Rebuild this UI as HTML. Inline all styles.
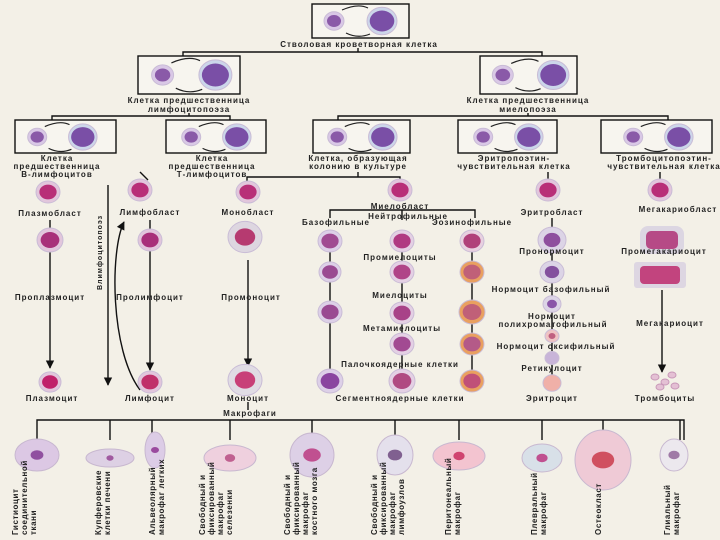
<!DOCTYPE html>
<html><head><meta charset="utf-8"><style>
html,body{margin:0;padding:0;background:#f3f0e7;}
svg{display:block}
text{font-family:"Liberation Sans","DejaVu Sans",sans-serif;font-size:8px;font-weight:bold;fill:#222;letter-spacing:1px;}
.c{text-anchor:middle}
.v text{font-size:8px;letter-spacing:0.6px}
</style></head><body>
<svg id="s" width="720" height="540" viewBox="0 0 720 540" xmlns="http://www.w3.org/2000/svg">
<defs>
<marker id="ar" viewBox="0 0 10 10" refX="9" refY="5" markerWidth="6" markerHeight="7" orient="auto"><path d="M0,0L10,5L0,10z" fill="#111"/></marker>
</defs>
<g fill="none" stroke="#111" stroke-width="1.4">
<rect x="312" y="4" width="97" height="34" fill="#f7f5ef"/>
<rect x="138" y="56" width="102" height="38" fill="#f7f5ef"/>
<rect x="480" y="56" width="97" height="38" fill="#f7f5ef"/>
<rect x="15" y="120" width="101" height="33" fill="#f7f5ef"/>
<rect x="166" y="120" width="100" height="33" fill="#f7f5ef"/>
<rect x="313" y="120" width="97" height="33" fill="#f7f5ef"/>
<rect x="458" y="120" width="99" height="33" fill="#f7f5ef"/>
<rect x="601" y="120" width="111" height="33" fill="#f7f5ef"/>
<path d="M358 48V52M183 56V52H542V56"/>
<path d="M189 113V116M52 120V116H230V120"/>
<path d="M528 113V116M338 120V116H668V120"/>
<path d="M358 172V177M247 182V177H400V182"/>
<path d="M548 172V180M660 172V180M140 172L148 180"/>
<path d="M50 220V368" marker-end="url(#ar)"/>
<path d="M150 220V370" marker-end="url(#ar)"/>
<path d="M248 260V366" marker-end="url(#ar)"/>
<path d="M108 185V385" marker-end="url(#ar)"/>
<path d="M140 390C110 350 110 250 124 222" marker-end="url(#ar)"/>
<path d="M330 218V210H475V218M402 210V220"/>
<path d="M330 230V375M402 230V375M472 230V375"/>
<path d="M552 218V375"/>
<path d="M662 290V372" marker-end="url(#ar)"/>
<path d="M248 402V410"/>
<path d="M37 440V420H684V440M110 420V440M152 420V440M230 420V440M312 420V440M395 420V440M459 420V440M542 420V440M603 420V440M680 420V440"/>
</g>
<g id="cells"></g>
<text class="c" x="359" y="47">Стволовая кроветворная клетка</text>
<text class="c" x="189" y="103">Клетка предшественница</text>
<text class="c" x="189" y="112">лимфоцитопоэза</text>
<text class="c" x="528" y="103">Клетка предшественница</text>
<text class="c" x="528" y="112">миелопоэза</text>
<text class="c" x="57" y="161">Клетка</text>
<text class="c" x="57" y="169">предшественница</text>
<text class="c" x="57" y="177">В-лимфоцитов</text>
<text class="c" x="212" y="161">Клетка</text>
<text class="c" x="212" y="169">предшественница</text>
<text class="c" x="212" y="177">Т-лимфоцитов</text>
<text class="c" x="358" y="161">Клетка, образующая</text>
<text class="c" x="358" y="169">колонию в культуре</text>
<text class="c" x="514" y="161">Эритропоэтин-</text>
<text class="c" x="514" y="169">чувствительная клетка</text>
<text class="c" x="664" y="161">Тромбоцитопоэтин-</text>
<text class="c" x="664" y="169">чувствительная клетка</text>
<text class="c" x="50" y="216">Плазмобласт</text>
<text class="c" x="150" y="215">Лимфобласт</text>
<text class="c" x="248" y="215">Монобласт</text>
<text class="c" x="400" y="209">Миелобласт</text>
<text class="c" x="408" y="219">Нейтрофильные</text>
<text class="c" x="336" y="225">Базофильные</text>
<text class="c" x="472" y="225">Эозинофильные</text>
<text class="c" x="552" y="215">Эритробласт</text>
<text class="c" x="678" y="212">Мегакариобласт</text>
<text class="c" x="552" y="254">Пронормоцит</text>
<text class="c" x="664" y="254">Промегакариоцит</text>
<text class="c" x="400" y="260">Промиелоциты</text>
<text class="c" x="551" y="292">Нормоцит базофильный</text>
<text class="c" x="400" y="298">Миелоциты</text>
<text class="c" x="50" y="300">Проплазмоцит</text>
<text class="c" x="150" y="300">Пролимфоцит</text>
<text class="c" x="251" y="300">Промоноцит</text>
<text class="c" x="552" y="319">Нормоцит</text>
<text class="c" x="553" y="327">полихроматофильный</text>
<text class="c" x="670" y="326">Мегакариоцит</text>
<text class="c" x="402" y="331">Метамиелоциты</text>
<text class="c" x="556" y="349">Нормоцит оксифильный</text>
<text class="c" x="400" y="367">Палочкоядерные клетки</text>
<text class="c" x="552" y="371">Ретикулоцит</text>
<text class="c" x="52" y="401">Плазмоцит</text>
<text class="c" x="150" y="401">Лимфоцит</text>
<text class="c" x="248" y="401">Моноцит</text>
<text class="c" x="400" y="401">Сегментноядерные клетки</text>
<text class="c" x="552" y="401">Эритроцит</text>
<text class="c" x="665" y="401">Тромбоциты</text>
<text class="c" x="250" y="416">Макрофаги</text>
<text transform="translate(102,290) rotate(-90)" style="font-size:7px">Влимфоцитопоэз</text>
<g class="v">
<g transform="translate(18,535) rotate(-90)"><text x="0" y="0">Гистиоцит</text><text x="0" y="9">соединительной</text><text x="0" y="18">ткани</text></g>
<g transform="translate(101,535) rotate(-90)"><text x="0" y="0">Купферовские</text><text x="0" y="9">клетки печени</text></g>
<g transform="translate(155,535) rotate(-90)"><text x="0" y="0">Альвеолярный</text><text x="0" y="9">макрофаг легких</text></g>
<g transform="translate(205,535) rotate(-90)"><text x="0" y="0">Свободный и</text><text x="0" y="9">фиксированный</text><text x="0" y="18">макрофаг</text><text x="0" y="27">селезенки</text></g>
<g transform="translate(290,535) rotate(-90)"><text x="0" y="0">Свободный и</text><text x="0" y="9">фиксированный</text><text x="0" y="18">макрофаг</text><text x="0" y="27">костного мозга</text></g>
<g transform="translate(377,535) rotate(-90)"><text x="0" y="0">Свободный и</text><text x="0" y="9">фиксированный</text><text x="0" y="18">макрофаг</text><text x="0" y="27">лимфоузлов</text></g>
<g transform="translate(451,535) rotate(-90)"><text x="0" y="0">Перитонеальный</text><text x="0" y="9">макрофаг</text></g>
<g transform="translate(537,535) rotate(-90)"><text x="0" y="0">Плевральный</text><text x="0" y="9">макрофаг</text></g>
<g transform="translate(601,535) rotate(-90)"><text x="0" y="0">Остеокласт</text></g>
<g transform="translate(670,535) rotate(-90)"><text x="0" y="0">Глиальный</text><text x="0" y="9">макрофаг</text></g>
</g>
</svg>
<script>
var g=document.getElementById('cells'),NS='http://www.w3.org/2000/svg';
function el(t,a){var e=document.createElementNS(NS,t);for(var k in a)e.setAttribute(k,a[k]);g.appendChild(e);return e;}
function cell(x,y,r,oc,nc,nr){el('ellipse',{cx:x,cy:y,rx:r,ry:r*0.92,fill:oc,stroke:'#c9bcd6','stroke-width':1});el('ellipse',{cx:x,cy:y,rx:r*(nr||0.72),ry:r*(nr||0.72)*0.85,fill:nc});}
function pair(cx,cy,s){cell(cx-24*s,cy,10*s,'#d9c8e6','#8a5aa8',0.7);cell(cx+24*s,cy,15*s,'#ccd6ea','#7a4fa6',0.82);
 el('path',{d:'M'+(cx-16*s)+' '+(cy-11*s)+'Q'+cx+' '+(cy-18*s)+' '+(cx+10*s)+' '+(cy-13*s),fill:'none',stroke:'#222','stroke-width':1.2});
 el('path',{d:'M'+(cx-12*s)+' '+(cy+12*s)+'Q'+cx+' '+(cy+18*s)+' '+(cx+12*s)+' '+(cy+13*s),fill:'none',stroke:'#222','stroke-width':1.2});}
pair(358,21,1);pair(189,75,1.1);pair(528,75,1.05);
pair(60,137,0.95);pair(214,137,0.95);pair(360,137,0.95);pair(506,137,0.95);pair(656,137,0.95);
var P='#b82f78',PL='#e2c6dc',V='#8e4f9e',O='#e9a060';
[[48,192],[140,190],[248,192],[400,190],[548,190],[660,190]].forEach(function(p){cell(p[0],p[1],12,PL,P);});
cell(50,240,13,PL,'#a8307a');cell(150,240,12,PL,'#a8307a');cell(245,237,17,'#ddd6e0','#b63a70',0.6);
cell(330,241,12,'#ddd0e8','#a04b92');cell(402,241,12,'#e4d0e4','#b03a82');cell(472,241,12,'#e8d0e0','#b0407a');
cell(552,240,14,'#dcd4e6',V,0.6);
el('rect',{x:640,y:226,width:44,height:28,rx:8,fill:'#dcd6e2'});el('rect',{x:646,y:231,width:32,height:18,rx:5,fill:'#b64a86'});
cell(330,272,11,'#ddd0e8','#9a4a92');cell(402,272,12,'#e4d0e4','#b04488');cell(472,272,12,O,'#c06078');
cell(552,272,12,'#dcd4e6','#84509e',0.6);
el('rect',{x:634,y:262,width:52,height:26,rx:3,fill:'#ddd6e2'});el('rect',{x:640,y:266,width:40,height:18,rx:4,fill:'#c2447e'});
cell(330,312,12,'#ddd0e8','#9a4a92');cell(402,313,12,'#e4d0e4','#a84288');cell(472,312,13,O,'#c06078');
cell(552,304,9,'#dcd4e6','#8a55a8',0.55);
cell(552,336,7,'#efc3c3','#c06080',0.5);cell(402,344,12,'#e4d0e4','#a24a92');cell(472,344,12,O,'#b45a88');
cell(552,358,7,'#c8b4d8','#c8b4d8',0.1);
cell(50,382,11,PL,'#c0206a');cell(150,382,12,PL,'#c0306a');cell(245,380,17,'#e0dce4','#c84078',0.6);
cell(330,381,13,'#ddd0e8','#8a45a0');cell(402,381,13,'#e4d0e4','#b04a82');cell(472,381,12,O,'#c05078');
cell(552,383,9,'#f0b0a8','#f0b0a8',0.1);
[[655,377],[665,382],[672,375],[660,387],[675,386]].forEach(function(p){el('ellipse',{cx:p[0],cy:p[1],rx:4,ry:3,fill:'#e4c0d4',stroke:'#c898b8'});});
var mx=[[37,455,22,16,'#dcc8e4','#9050a0'],[110,458,24,9,'#ddd0e4','#a05aa0'],[155,450,10,18,'#dccce6','#9a4a9e'],[230,458,26,13,'#efd0de','#c06090'],
[312,455,22,22,'#ddd0e6','#c05090'],[395,455,18,20,'#e4e0ec','#806090'],[459,456,26,14,'#f3c4d0','#d04470'],[542,458,20,14,'#d8e0e8','#c05090'],[603,460,28,30,'#efcad6','#d05060'],[674,455,14,16,'#ece8ee','#a07aa6']];
mx.forEach(function(m){el('ellipse',{cx:m[0],cy:m[1],rx:m[2],ry:m[3],fill:m[4],stroke:'#c8b8d0'});el('ellipse',{cx:m[0],cy:m[1],rx:Math.min(m[2],m[3])*0.4,ry:Math.min(m[2],m[3])*0.3,fill:m[5]});});
</script>
</body></html>
